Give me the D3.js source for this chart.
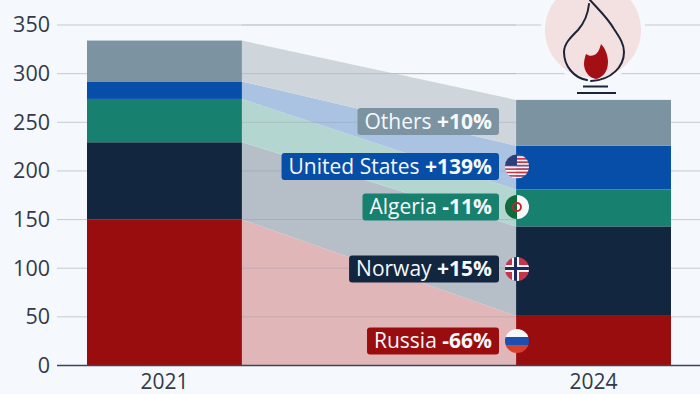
<!DOCTYPE html>
<html><head><meta charset="utf-8">
<script src="https://cdn.jsdelivr.net/npm/d3@7"></script>
<style>html,body{margin:0;padding:0;background:#f5f8fc;overflow:hidden}svg{display:block;font-family:"Open Sans",sans-serif}</style>
</head><body><svg id="c" width="700" height="394"></svg>
<script>
const years = ["2021", "2024"];
const countries = ["Russia", "Norway", "Algeria", "United States", "Others"];
const values2021 = [150, 79.5, 44.5, 18, 42];
const values2024 = [51, 92, 38, 45, 47];
const changes = ["-66%", "+15%", "-11%", "+139%", "+10%"];
const colors = ["#990d0f", "#12263f", "#18806f", "#064ea8", "#7c93a2"];
const ribbonColors = ["#e0b6b8", "#b6bec8", "#b3d6d0", "#abc3e2", "#cfd6db"];
const ticks = [0, 50, 100, 150, 200, 250, 300, 350];
const labelCenters = [341, 269, 207, 166.5, 121.5];

const svg = d3.select("#c");
const y = d3.scaleLinear().domain([0, 350]).range([365.5, 25]);
const x = d3.scaleBand().domain(years).range([87, 671]).paddingInner(0.639).paddingOuter(0);
const stack = arr => { let s = 0; return arr.map(v => { const r = [s, s + v]; s += v; return r; }); };
const s21 = stack(values2021), s24 = stack(values2024);
const x0 = x("2021") + x.bandwidth(), x1 = x("2024");

// grid
svg.append("g").selectAll("line").data(ticks.slice(1)).join("line")
  .attr("x1", 57).attr("x2", 700).attr("y1", d => y(d)).attr("y2", d => y(d))
  .attr("stroke", "#c6cbd0").attr("stroke-width", 1);

// ribbons
svg.append("g").selectAll("path").data(countries).join("path")
  .attr("fill", (d, i) => ribbonColors[i])
  .attr("d", (d, i) => `M${x0},${y(s21[i][1])}L${x1},${y(s24[i][1])}L${x1},${y(s24[i][0])}L${x0},${y(s21[i][0])}Z`);

// grid visible faintly through ribbons
svg.append("g").selectAll("line").data(ticks.slice(1)).join("line")
  .attr("x1", x0).attr("x2", x1).attr("y1", d => y(d)).attr("y2", d => y(d))
  .attr("stroke", "#8a8f98").attr("stroke-opacity", 0.3);

// bars
[[years[0], s21], [years[1], s24]].forEach(([yr, st]) => {
  svg.append("g").selectAll("rect").data(st).join("rect")
    .attr("x", x(yr)).attr("width", x.bandwidth())
    .attr("y", d => y(d[1])).attr("height", d => y(d[0]) - y(d[1]))
    .attr("fill", (d, i) => colors[i]);
});

// axes
svg.append("line").attr("x1", 57).attr("x2", 700).attr("y1", y(0)).attr("y2", y(0))
  .attr("stroke", "#3c4457").attr("stroke-width", 1.4);
const yAxis = d3.axisLeft(y).tickValues(ticks).tickSize(0).tickPadding(0);
const gy = svg.append("g").attr("transform", "translate(50,0)").call(yAxis);
gy.select(".domain").remove();
gy.selectAll("text").attr("font-family", '"Open Sans",sans-serif').attr("font-size", 21.5).attr("fill", "#333a48");
const xAxis = d3.axisBottom(x).tickSize(0).tickPadding(0);
const gx = svg.append("g").attr("transform", "translate(0,374)").call(xAxis);
gx.select(".domain").remove();
gx.selectAll("text").attr("font-family", '"Open Sans",sans-serif').attr("font-size", 21).attr("fill", "#333a48");

// icon
const icon = svg.append("g");
icon.append("circle").attr("cx", 593).attr("cy", 30).attr("r", 52).attr("fill", "#f5f8fc");
icon.append("circle").attr("cx", 593).attr("cy", 30).attr("r", 48).attr("fill", "#f3e0e1");
const ink = "#1c2438";
icon.append("path").attr("fill", "none").attr("stroke", ink).attr("stroke-width", 2).attr("stroke-linecap", "round")
  .attr("d", "M589,4 C588,14 585,22 578,30 C570,38 564,44 564,52 C564,66 574,78 587,80");
icon.append("path").attr("fill", "none").attr("stroke", ink).attr("stroke-width", 2).attr("stroke-linecap", "round")
  .attr("d", "M590,0 C597,8 607,17 614,29 C620,38 624,44 624,52 C624,66 612,80 591,81");
icon.append("path").attr("fill", "#a30f14")
  .attr("d", "M601,44 C605,48 608,55 608,62 C608,72 602,78 596,79 C589,78 584,71 584,64 C584,60 585,57 586,54 C590,57 594,56 597,53 C599,51 600,47 601,44 Z");
icon.append("line").attr("x1", 583).attr("x2", 608).attr("y1", 86.5).attr("y2", 86.5).attr("stroke", ink).attr("stroke-width", 2);
icon.append("line").attr("x1", 577).attr("x2", 616).attr("y1", 93).attr("y2", 93).attr("stroke", ink).attr("stroke-width", 2);

// labels
const lab = svg.append("g").selectAll("g").data(countries).join("g");
const txt = lab.append("text").attr("x", 492).attr("y", (d, i) => labelCenters[i] + 7)
  .attr("text-anchor", "end").attr("fill", "#f5f8fc").attr("font-size", 21);
txt.append("tspan").text(d => d + " ");
txt.append("tspan").attr("font-weight", 700).text((d, i) => changes[i]);
lab.insert("rect", "text").each(function (d, i) {
  const w = this.parentNode.querySelector("text").getComputedTextLength();
  d3.select(this).attr("x", 492 - w - 7).attr("width", w + 14)
    .attr("y", labelCenters[i] - 13.5).attr("height", 27).attr("rx", 3).attr("fill", colors[i]);
});

// flags
const defs = svg.append("defs");
const flagX = 517, flagR = 12;
const flagFor = countries.slice(0, 4);
flagFor.forEach((c, i) => {
  defs.append("clipPath").attr("id", "f" + i).append("circle").attr("cx", flagX).attr("cy", labelCenters[i]).attr("r", flagR);
});
const flag = svg.append("g");
flagFor.forEach((c, i) => {
  const cy = labelCenters[i], L = flagX - flagR, T = cy - flagR, D = 2 * flagR;
  const g = flag.append("g").attr("clip-path", `url(#f${i})`);
  const r = (a, b, w, h, f) => g.append("rect").attr("x", a).attr("y", b).attr("width", w).attr("height", h).attr("fill", f);
  if (c === "Russia") {
    r(L, T, D, D / 3, "#f6f7f8"); r(L, T + D / 3, D, D / 3, "#1d4fb0"); r(L, T + 2 * D / 3, D, D / 3, "#d5402f");
  } else if (c === "Norway") {
    r(L, T, D, D, "#c7354a");
    r(L, cy - 4, D, 7, "#f5f5f5"); r(flagX - 5, T, 7, D, "#f5f5f5");
    r(L, cy - 2, D, 3, "#1c2c5a"); r(flagX - 3, T, 3, D, "#1c2c5a");
  } else if (c === "Algeria") {
    r(L, T, D / 2, D, "#0f6b3c"); r(flagX, T, D / 2, D, "#f7f7f7");
    g.append("circle").attr("cx", flagX).attr("cy", cy).attr("r", 4).attr("fill", "none").attr("stroke", "#c8202f").attr("stroke-width", 1.8);
  } else {
    d3.range(7).forEach(k => r(L, T + k * D / 7, D, D / 14, "#c6354a"));
    d3.range(7).forEach(k => r(L, T + k * D / 7 + D / 14, D, D / 14, "#f6f6f6"));
    r(L, T, 12, 11, "#2b3f7c");
  }
});
</script></body></html>
